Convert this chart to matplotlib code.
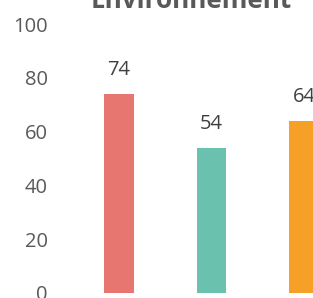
import matplotlib
matplotlib.use("Agg")
import matplotlib.pyplot as plt

# chart values
categories = ["A", "B", "C"]
values = [74, 54, 64]
colors = ["#E87670", "#6AC2AE", "#F6A028"]
yticks = [0, 20, 40, 60, 80, 100]
title = "Environnement"

plt.rcParams["font.family"] = ["Open Sans", "DejaVu Sans"]

W, H = 313, 298
fig = plt.figure(figsize=(W / 100, H / 100), dpi=100)

# axes deliberately extends past the right edge (reference is cropped)
ax = fig.add_axes([60 / W, 5 / H, 303 / W, 269 / H])
x = range(len(categories))
bars = ax.bar(x, values, width=30 / 93, color=colors)
ax.set_xlim(-0.634, 2.634)
ax.set_ylim(0, 100)
ax.set_yticks(yticks)
ax.set_xticks([])
for s in ax.spines.values():
    s.set_visible(False)
ax.tick_params(axis="y", length=0, pad=9, labelsize=14.5, labelcolor="#595959")

for b, v in zip(bars, values):
    ax.annotate(str(v), (b.get_x() + b.get_width() / 2, v),
                xytext=(0, 10), textcoords="offset points",
                ha="center", va="bottom", fontsize=14.5, color="#404040")

fig.text(191 / W, 1 - 8 / H, title, ha="center", va="baseline",
         fontsize=18.8, fontweight="bold", color="#595959")

fig.savefig("out.png", dpi=100)
